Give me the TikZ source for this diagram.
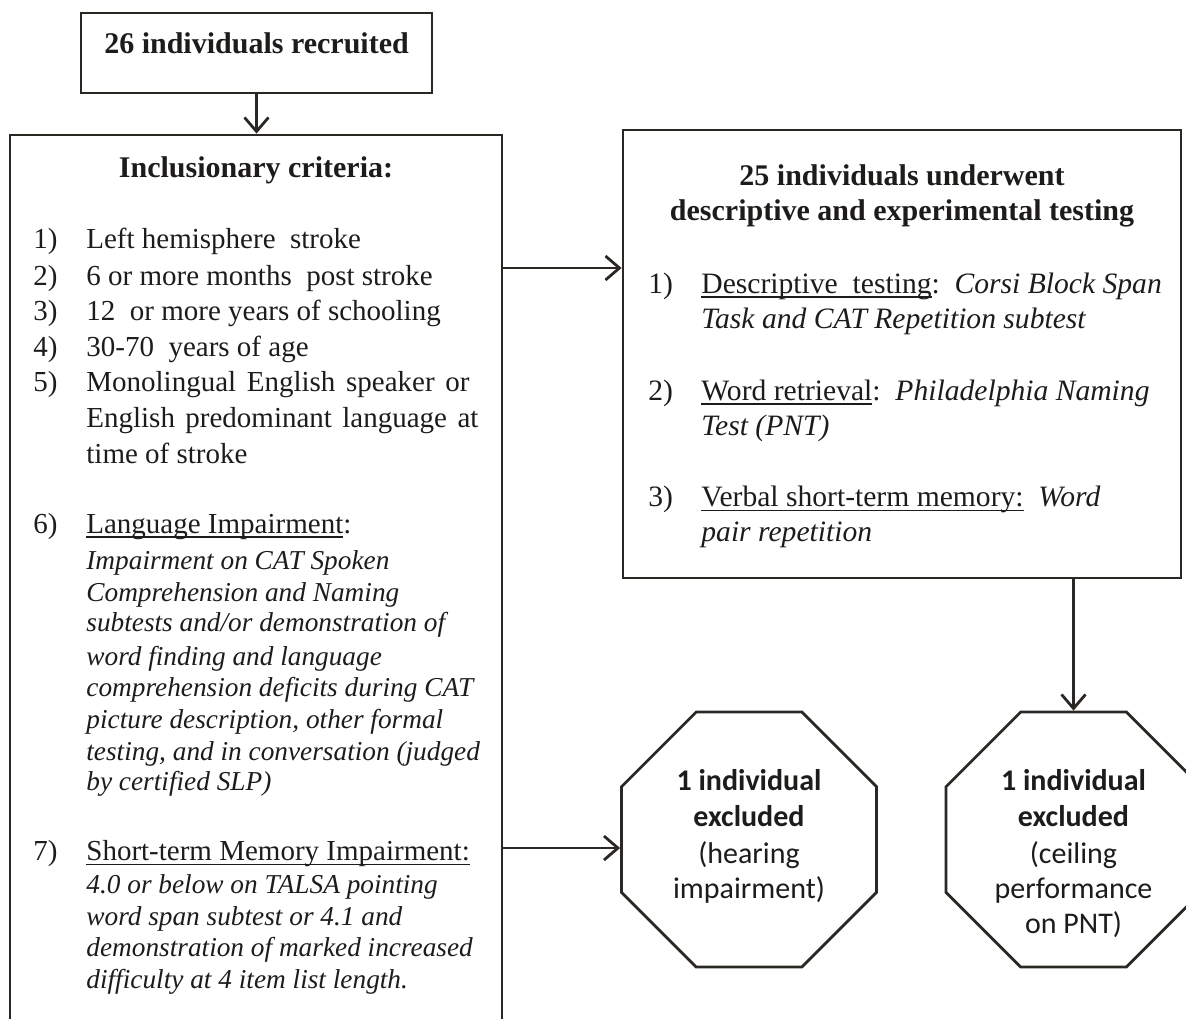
\documentclass[tikz,border=0pt]{standalone}
\usepackage{fontspec}
\setmainfont{Liberation Serif}
\newfontfamily\sansf{Carlito}
\usetikzlibrary{arrows.meta,shapes.geometric}
\definecolor{ink}{RGB}{43,40,36}
\definecolor{txtc}{RGB}{30,28,26}
\newsavebox\ulbox
\newcommand\myul[1]{\sbox\ulbox{#1}\rlap{\rule[-2.3pt]{\wd\ulbox}{0.75pt}}\usebox\ulbox}
\begin{document}
\begin{tikzpicture}[x=0.5pt,y=-0.5pt,
 box/.style={draw=ink,line width=1.4pt,rectangle,inner sep=0pt},
 oct/.style={draw=ink,line width=1.4pt,regular polygon,regular polygon sides=8,minimum size=138pt,inner sep=0pt},
 arr/.style={draw=ink,line width=1.4pt,-{Straight Barb[length=7pt,width=12pt]}},
 t/.style={inner sep=0pt,anchor=base west,text=txtc,font=\fontsize{14.8}{18}\selectfont},
 tl/.style={t,font=\fontsize{14.5}{18}\selectfont},
 ti/.style={t,font=\fontsize{13.65}{16}\selectfont\itshape},
 tb/.style={t,anchor=base,font=\fontsize{15}{18}\selectfont\bfseries},
 ts/.style={inner sep=0pt,anchor=base,text=txtc,font=\fontsize{15}{18}\selectfont\sansf},
 tsb/.style={ts,font=\fontsize{15}{18}\selectfont\sansf\bfseries}]
\useasboundingbox (0,0) rectangle (1186,1018);
\clip (0,0) rectangle (1186,1018);
% shapes
\node[box,minimum width=175.5pt,minimum height=40pt] (top) at (256.5,53) {};
\node[box,minimum width=246pt,minimum height=452.5pt] (crit) at (256,587.5) {};
\node[box,minimum width=279pt,minimum height=224pt] (test) at (902,354) {};
\node[oct] (ex1) at (749,839.5) {};
\node[oct] (ex2) at (1073.5,839.5) {};
% connectors
\draw[arr] (top.south) -- (top.south |- crit.north);
\draw[arr] (crit.east |- 0,268) -- (test.west |- 0,268);
\draw[arr] (crit.east |- 0,848) -- (ex1.west |- 0,848);
\draw[arr] (ex2.north |- test.south) -- (ex2.north);
% top box
\node[tb] (toptxt) at (256.5,53) {26 individuals recruited};
% criteria box
\node[tb] (crithead) at (256,177) {Inclusionary criteria:};
\node[tl] (n1) at (33,248.3) {1)};
\node[tl] (c1) at (86,248.3) {Left hemisphere\ \ stroke};
\node[tl] (n2) at (33,285) {2)};
\node[tl] (c2) at (86,285) {6 or more months\ \ post stroke};
\node[tl] (n3) at (33,320.7) {3)};
\node[tl] (c3) at (86,320.7) {12\ \ or more years of schooling};
\node[tl] (n4) at (33,356.7) {4)};
\node[tl] (c4) at (86,356.7) {30-70\ \ years of age};
\node[tl] (n5) at (33,391.7) {5)};
\node[tl] (c5a) at (86,391.7) {\makebox[191.5pt][s]{Monolingual English speaker or}};
\node[tl] (c5b) at (86,427.7) {\makebox[196pt][s]{English predominant language at}};
\node[tl] (c5c) at (86,463.3) {time of stroke};
\node[tl] (n6) at (33,533.3) {6)};
\node[tl] (c6) at (86,533.3) {\myul{Language Impairment}:};
\node[ti] (c6a) at (86,569.3) {Impairment on CAT Spoken};
\node[ti] (c6b) at (86,601) {Comprehension and Naming};
\node[ti] (c6c) at (86,631.7) {subtests and/or demonstration of};
\node[ti] (c6d) at (86,665) {word finding and language};
\node[ti] (c6e) at (86,696.7) {comprehension deficits during CAT};
\node[ti] (c6f) at (86,728.3) {picture description, other formal};
\node[ti] (c6g) at (86,760) {testing, and in conversation (judged};
\node[ti] (c6h) at (86,790.7) {by certified SLP)};
\node[tl] (n7) at (33,860.7) {7)};
\node[tl] (c7) at (86,860.7) {\myul{Short-term Memory Impairment:}};
\node[ti] (c7a) at (86,893.3) {4.0 or below on TALSA pointing};
\node[ti] (c7b) at (86,925) {word span subtest or 4.1 and};
\node[ti] (c7c) at (86,956.7) {demonstration of marked increased};
\node[ti] (c7d) at (86,988.3) {difficulty at 4 item list length.};
% testing box
\node[tb] (testh1) at (902,185) {25 individuals underwent};
\node[tb] (testh2) at (902,220) {descriptive and experimental testing};
\node[t] (m1) at (648,293.3) {1)};
\node[t] (d1a) at (701,293.3) {\myul{Descriptive\ \ testing}:\ \ \textit{Corsi Block Span}};
\node[t] (d1b) at (701,328.3) {\textit{Task and CAT Repetition subtest}};
\node[t] (m2) at (648,400) {2)};
\node[t] (d2a) at (701,400) {\myul{Word retrieval}:\ \ \textit{Philadelphia Naming}};
\node[t] (d2b) at (701,435) {\textit{Test (PNT)}};
\node[t] (m3) at (648,506.7) {3)};
\node[t] (d3a) at (701,506.7) {\myul{Verbal short-term memory:}\ \ \textit{Word}};
\node[t] (d3b) at (701,541.7) {\textit{pair repetition}};
% exclusion octagons
\node[tsb] (e1a) at (749,790.7) {1 individual};
\node[tsb] (e1b) at (749,826) {excluded};
\node[ts] (e1c) at (749,863) {(hearing};
\node[ts] (e1d) at (749,898) {impairment)};
\node[tsb] (e2a) at (1073.5,790.7) {1 individual};
\node[tsb] (e2b) at (1073.5,826) {excluded};
\node[ts] (e2c) at (1073.5,863) {(ceiling};
\node[ts] (e2d) at (1073.5,898) {performance};
\node[ts] (e2e) at (1073.5,933) {on PNT)};
\end{tikzpicture}
\end{document}
